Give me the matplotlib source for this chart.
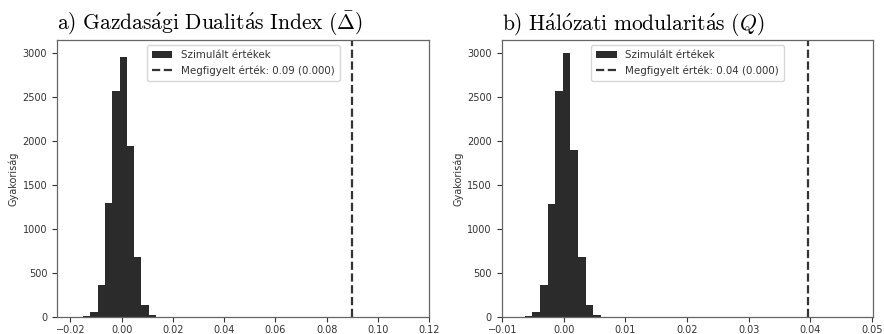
import matplotlib
matplotlib.use("Agg")
import matplotlib.pyplot as plt

# adatok a hisztogramokhoz
edges_a = [-0.0150, -0.01216, -0.00932, -0.00648, -0.00364, -0.0008,
           0.00204, 0.00488, 0.00772, 0.01056, 0.0134]
counts_a = [8, 48, 355, 1296, 2570, 2959, 1943, 680, 131, 19]
obs_a = 0.0898
label_obs_a = "Megfigyelt érték: 0.09 (0.000)"

edges_b = [-0.00635, -0.00511, -0.00388, -0.00264, -0.00140, -0.00017,
           0.00107, 0.00231, 0.00354, 0.00478, 0.00602]
counts_b = [8, 49, 361, 1284, 2575, 3008, 1899, 680, 133, 19]
obs_b = 0.0396
label_obs_b = "Megfigyelt érték: 0.04 (0.000)"

titles = [r"$\mathrm{a)\ Gazdas\acute{a}gi\ Dualit\acute{a}s\ Index\ (}\bar{\Delta}\mathrm{)}$",
          r"$\mathrm{b)\ H\acute{a}l\acute{o}zati\ modularit\acute{a}s\ (}Q\mathrm{)}$"]
xlims = [(-0.0252, 0.1200), (-0.0101, 0.0502)]

plt.rcParams['mathtext.fontset'] = 'cm'
plt.rcParams['font.family'] = 'DejaVu Sans'
text_col = '#333333'

fig = plt.figure(figsize=(8.84, 3.34), dpi=100)
ax1 = fig.add_axes([0.0645, 0.052, 0.4210, 0.828])
ax2 = fig.add_axes([0.5675, 0.052, 0.4200, 0.828])

for ax, edges, counts, obs, lab, title, xl in [
        (ax1, edges_a, counts_a, obs_a, label_obs_a, titles[0], xlims[0]),
        (ax2, edges_b, counts_b, obs_b, label_obs_b, titles[1], xlims[1])]:
    widths = [edges[i + 1] - edges[i] for i in range(len(counts))]
    bars = ax.bar(edges[:-1], counts, width=widths, align='edge', color='#2b2b2b',
                  linewidth=0, label='Szimulált értékek')
    line = ax.axvline(obs, color='#333333', linestyle='--', linewidth=1.6, label=lab)
    ax.set_xlim(xl)
    ax.set_ylim(0, 3150)
    ax.set_yticks([0, 500, 1000, 1500, 2000, 2500, 3000])
    ax.set_ylabel('Gyakoriság', fontsize=7, color=text_col, labelpad=3)
    ax.set_title(title, loc='left', fontsize=15.5, pad=7)
    ax.tick_params(labelsize=7, colors=text_col, length=3.5, width=0.8)
    ax.tick_params(axis='x', pad=2.5)
    for s in ax.spines.values():
        s.set_color('#666666')
        s.set_linewidth(0.9)
    leg = ax.legend([bars, line], ['Szimulált értékek', lab], loc='upper center',
                    fontsize=7.4, frameon=True, borderpad=0.5, handlelength=2.0)
    for t in leg.get_texts():
        t.set_color(text_col)

fig.savefig('out.png', dpi=100)
plt.close()
